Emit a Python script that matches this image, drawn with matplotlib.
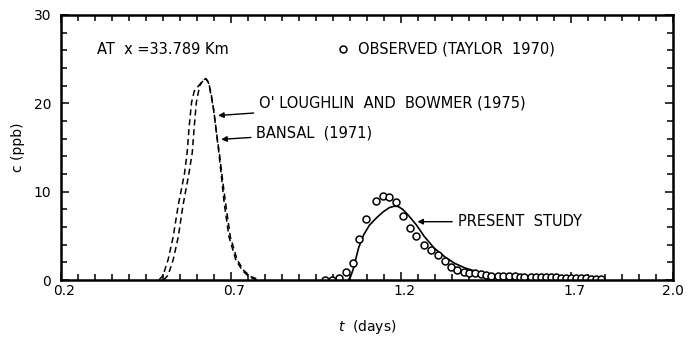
import matplotlib.pyplot as plt
from matplotlib.ticker import MultipleLocator, FixedLocator
from matplotlib.transforms import ScaledTranslation

# observed (Taylor 1970)
obs_t = [0.975, 0.998, 1.019, 1.039, 1.058, 1.076, 1.098, 1.127, 1.147, 1.166,
         1.186, 1.205, 1.225, 1.245, 1.269, 1.289, 1.309, 1.328, 1.348, 1.366,
         1.386, 1.401, 1.419, 1.436, 1.450, 1.465, 1.484, 1.499, 1.519, 1.534,
         1.549, 1.563, 1.582, 1.597, 1.611, 1.626, 1.641, 1.656, 1.670, 1.685,
         1.700, 1.715, 1.730, 1.744, 1.759, 1.773, 1.787]
obs_c = [0.05, 0.05, 0.25, 0.95, 1.9, 4.6, 6.9, 8.9, 9.5, 9.4,
         8.8, 7.2, 5.9, 5.0, 4.0, 3.4, 2.8, 2.1, 1.5, 1.15,
         0.95, 0.8, 0.75, 0.65, 0.57, 0.5, 0.45, 0.45, 0.45, 0.42,
         0.38, 0.38, 0.36, 0.3, 0.3, 0.3, 0.3, 0.3, 0.28, 0.25,
         0.25, 0.22, 0.2, 0.17, 0.15, 0.12, 0.1]

# present study
pres_t = [1.045, 1.052, 1.06, 1.075, 1.09, 1.107, 1.127, 1.147, 1.166, 1.18,
          1.191, 1.205, 1.22, 1.245, 1.269, 1.298, 1.328, 1.357, 1.386, 1.416,
          1.445, 1.48, 1.52, 1.56, 1.6, 1.65, 1.7, 1.75, 1.79]
pres_c = [0.0, 0.4, 1.3, 3.6, 5.1, 6.2, 7.0, 7.7, 8.2, 8.35,
          8.33, 8.0, 7.4, 6.25, 4.9, 3.6, 2.65, 1.9, 1.4, 1.02,
          0.76, 0.57, 0.42, 0.32, 0.25, 0.18, 0.12, 0.08, 0.05]

# O'Loughlin and Bowmer (1975)
olb_t = [0.488, 0.500, 0.515, 0.530, 0.545, 0.563, 0.571, 0.577, 0.584, 0.592,
         0.605, 0.618, 0.626, 0.634, 0.642, 0.650, 0.658, 0.667, 0.674, 0.684,
         0.698, 0.718, 0.737, 0.757, 0.785]
olb_c = [0.0, 0.5, 2.3, 4.9, 8.5, 12.0, 14.4, 17.4, 20.1, 21.4,
         22.0, 22.6, 22.8, 22.4, 21.0, 19.0, 16.5, 14.0, 11.7, 8.7,
         4.9, 2.3, 1.1, 0.4, 0.0]

# Bansal (1971)
ban_t = [0.502, 0.515, 0.530, 0.545, 0.559, 0.576, 0.586, 0.592, 0.598, 0.608,
         0.618, 0.626, 0.634, 0.641, 0.648, 0.656, 0.664, 0.671, 0.680, 0.694,
         0.714, 0.733, 0.752, 0.775]
ban_c = [0.0, 0.55, 2.3, 4.9, 8.5, 12.0, 14.4, 17.4, 20.1, 22.0,
         22.6, 22.8, 22.3, 21.0, 19.5, 17.0, 14.5, 12.0, 8.7, 4.9,
         2.3, 1.1, 0.4, 0.0]

x_major = [0.2, 0.7, 1.2, 1.7, 2.0]

fig = plt.figure(figsize=(6.97, 3.39), dpi=100)
ax = fig.add_axes([61 / 697, 1 - 280 / 339, 612 / 697, 265 / 339])

ax.plot(olb_t, olb_c, color="black", lw=1.1, dashes=(4, 2.5))
ax.plot(ban_t, ban_c, color="black", lw=1.1, dashes=(4, 2.5))
ax.plot(pres_t, pres_c, color="black", lw=1.2)
ax.plot(obs_t, obs_c, "o", ms=5, mfc="white", mec="black", mew=1.1)

ax.set_xlim(0.2, 2.0)
ax.set_ylim(0, 30)

ax.xaxis.set_major_locator(FixedLocator(x_major))
ax.xaxis.set_minor_locator(MultipleLocator(0.05))
ax.yaxis.set_major_locator(MultipleLocator(10))
ax.yaxis.set_minor_locator(MultipleLocator(2))
ax.tick_params(which="both", direction="in", top=True, right=True,
               width=1.1, labelsize=10)
ax.tick_params(which="major", length=6)
ax.tick_params(axis="x", which="major", pad=3)
ax.tick_params(axis="y", which="major", pad=7)
ax.tick_params(which="minor", length=4)
for s in ax.spines.values():
    s.set_linewidth(1.8)

# labels in the original sit a little right of their ticks (not the last one)
shift = ScaledTranslation(3 / 100, 0, fig.dpi_scale_trans)
for lbl in ax.get_xticklabels()[:-1]:
    lbl.set_transform(lbl.get_transform() + shift)

ax.set_xlabel("$t$  (days)", fontsize=10, labelpad=14)
ax.set_ylabel("c (ppb)", fontsize=10, labelpad=6)

fs = 10.5
ax.text(0.305, 26.1, "AT  x =33.789 Km", fontsize=fs, va="center")
ax.plot([1.029], [26.1], "o", ms=5, mfc="white", mec="black", mew=1.1)
ax.text(1.075, 26.1, "OBSERVED (TAYLOR  1970)", fontsize=fs, va="center")

arrow = dict(arrowstyle="-|>", color="black", lw=1.0, mutation_scale=8)
ax.annotate("O' LOUGHLIN  AND  BOWMER (1975)", xy=(0.654, 18.6),
            xytext=(0.783, 20.0), fontsize=fs, va="center",
            arrowprops=arrow)
ax.annotate("BANSAL  (1971)", xy=(0.663, 15.9), xytext=(0.775, 16.6),
            fontsize=fs, va="center", arrowprops=arrow)
ax.annotate("PRESENT  STUDY", xy=(1.24, 6.6), xytext=(1.367, 6.6),
            fontsize=fs, va="center", arrowprops=arrow)

fig.savefig("out.png", dpi=100)
